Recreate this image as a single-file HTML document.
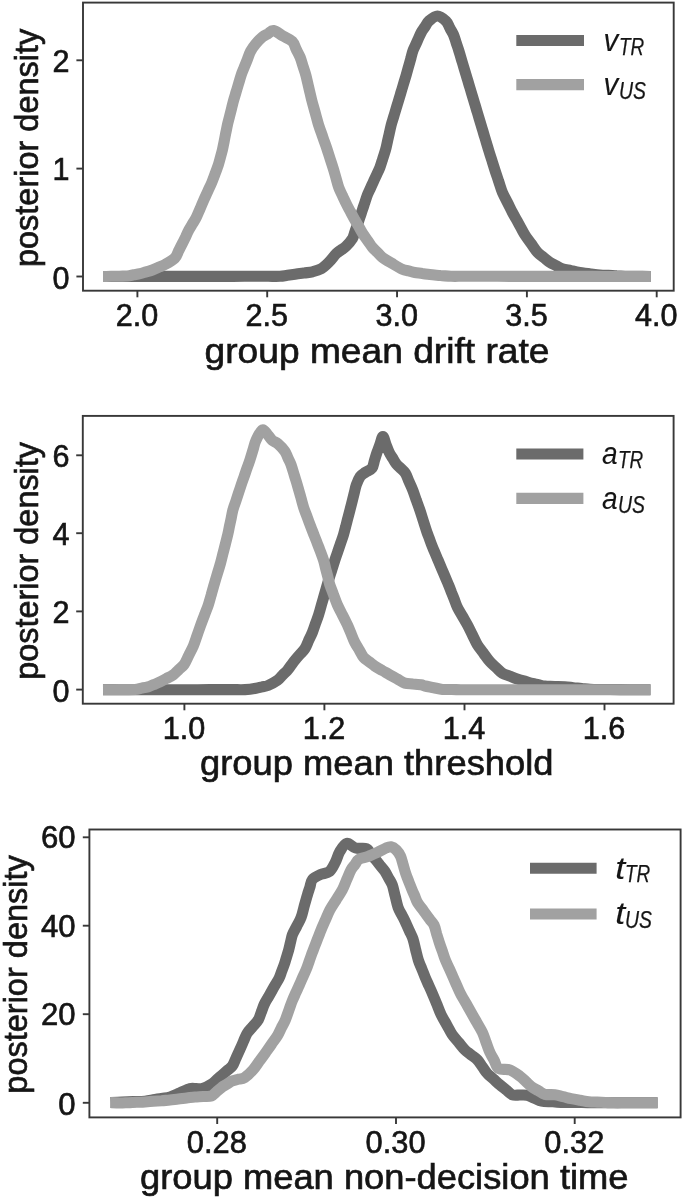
<!DOCTYPE html>
<html><head><meta charset="utf-8"><title>posterior densities</title>
<style>
html,body{margin:0;padding:0;background:#fff;}
svg{display:block;}
text{font-family:"Liberation Sans",sans-serif;fill:#151515;stroke:#151515;stroke-width:0.65px;}
</style></head><body>
<svg width="685" height="1199" viewBox="0 0 685 1199">
<rect width="685" height="1199" fill="#fff"/>
<g style="filter:blur(0.6px)">
<g id="p1">
<path d="M103.0 276.5C105.0 276.5 110.9 276.5 114.8 276.5C118.7 276.5 122.7 276.5 126.6 276.5C130.5 276.5 134.5 276.5 138.4 276.5C142.3 276.5 146.3 276.5 150.2 276.4C154.1 276.4 158.1 276.4 162.0 276.4C165.9 276.4 169.9 276.4 173.8 276.4C177.7 276.4 181.7 276.4 185.6 276.4C189.5 276.4 193.5 276.4 197.4 276.4C201.3 276.4 205.3 276.4 209.2 276.4C213.1 276.4 217.1 276.4 221.0 276.4C224.9 276.4 228.9 276.4 232.8 276.4C236.7 276.3 240.7 276.3 244.6 276.3C248.5 276.3 252.5 276.3 256.4 276.3C260.3 276.3 264.3 276.3 268.2 276.3C272.1 276.3 276.8 276.5 280.0 276.3C283.2 276.1 285.0 275.6 287.5 275.3C290.0 275.0 292.3 274.7 295.0 274.3C297.7 273.9 300.8 273.5 303.8 273.1C306.7 272.6 309.6 272.5 312.5 271.8C315.4 271.1 318.5 270.4 321.2 268.8C323.9 267.2 326.2 264.9 328.7 262.4C331.2 259.9 334.1 255.8 336.2 253.7C338.3 251.6 339.5 251.2 341.2 249.9C342.9 248.7 344.3 248.1 346.2 246.2C348.1 244.3 350.9 241.0 352.4 238.6C353.8 236.2 354.1 234.0 354.9 231.8C355.7 229.5 356.6 227.3 357.4 224.9C358.2 222.5 359.1 219.9 359.9 217.4C360.7 214.9 361.6 212.4 362.4 209.9C363.2 207.4 364.1 204.9 364.9 202.4C365.7 199.9 366.5 197.3 367.4 194.9C368.3 192.5 369.5 190.3 370.5 188.1C371.5 185.8 372.6 183.5 373.6 181.2C374.6 178.9 375.7 176.6 376.8 174.3C377.8 172.1 378.9 170.1 379.9 167.5C380.9 164.9 381.8 161.7 382.7 158.8C383.6 155.8 384.7 152.8 385.5 150.0C386.3 147.2 386.8 144.4 387.4 141.7C388.0 138.9 388.7 136.1 389.3 133.3C389.9 130.6 390.5 127.8 391.2 125.0C391.9 122.2 392.9 119.4 393.7 116.7C394.5 113.9 395.4 111.1 396.2 108.3C397.0 105.6 397.9 102.8 398.7 100.0C399.5 97.2 400.4 94.4 401.2 91.7C402.0 88.9 402.9 86.1 403.7 83.3C404.5 80.6 405.4 77.8 406.2 75.0C407.0 72.2 407.8 69.4 408.5 66.7C409.3 63.9 410.1 61.1 410.9 58.3C411.6 55.6 412.1 52.8 413.2 50.0C414.3 47.2 415.9 44.2 417.2 41.2C418.5 38.3 419.9 34.9 421.2 32.5C422.5 30.1 423.7 28.7 424.9 26.9C426.2 25.0 426.6 23.0 428.7 21.2C430.8 19.4 434.5 16.0 437.4 16.0C440.3 16.0 444.0 19.2 446.1 21.2C448.2 23.2 448.6 25.8 449.9 28.1C451.1 30.4 452.6 32.6 453.6 35.0C454.6 37.4 455.3 40.0 456.1 42.5C456.9 45.0 457.8 47.4 458.6 50.0C459.4 52.6 460.3 55.6 461.1 58.3C461.9 61.1 462.8 63.9 463.6 66.7C464.4 69.4 465.3 72.2 466.1 75.0C466.9 77.8 467.8 80.6 468.6 83.3C469.4 86.1 470.3 88.9 471.1 91.7C471.9 94.4 472.8 97.2 473.6 100.0C474.4 102.8 475.3 105.6 476.1 108.3C476.9 111.1 477.8 113.9 478.6 116.7C479.4 119.4 480.3 122.2 481.1 125.0C481.9 127.8 482.8 130.6 483.6 133.3C484.4 136.1 485.3 138.9 486.1 141.7C486.9 144.4 487.7 146.9 488.6 150.0C489.5 153.1 490.7 156.7 491.8 160.0C492.8 163.3 493.8 166.5 494.9 170.0C496.0 173.5 497.4 177.5 498.6 181.2C499.9 184.9 500.9 188.9 502.4 192.4C503.9 195.9 505.7 199.1 507.4 202.4C509.1 205.7 510.9 209.5 512.4 212.4C513.9 215.3 515.2 217.4 516.6 219.9C518.0 222.4 519.3 224.9 520.7 227.4C522.1 229.9 523.2 232.2 524.9 234.9C526.6 237.6 529.1 240.7 531.1 243.6C533.2 246.5 535.3 250.0 537.4 252.3C539.5 254.6 541.6 255.7 543.6 257.4C545.7 259.0 547.8 261.0 549.9 262.4C552.0 263.8 554.0 264.5 556.1 265.6C558.2 266.7 559.8 268.0 562.3 268.8C564.8 269.6 568.1 270.0 571.0 270.6C574.0 271.3 576.7 272.0 579.8 272.5C582.9 273.0 586.5 273.3 589.8 273.8C593.1 274.2 596.7 274.7 599.8 275.0C602.9 275.3 605.4 275.3 608.2 275.4C611.0 275.6 613.8 275.7 616.6 275.9C619.4 276.0 622.2 276.2 625.0 276.3C627.8 276.4 630.7 276.3 633.6 276.4C636.4 276.4 639.3 276.4 642.1 276.4C645.0 276.5 649.3 276.5 650.7 276.5" fill="none" stroke="#6b6b6b" stroke-width="11.1" stroke-linejoin="round" stroke-linecap="butt"/>
<path d="M103.0 276.5C104.4 276.5 108.4 276.4 111.1 276.3C113.8 276.3 116.6 276.2 119.3 276.2C122.0 276.1 125.0 276.2 127.4 276.0C129.8 275.8 131.6 275.2 133.7 274.8C135.8 274.4 137.9 274.1 140.0 273.6C142.1 273.1 144.1 272.4 146.2 271.8C148.3 271.2 150.3 270.8 152.4 270.0C154.5 269.2 156.6 268.2 158.7 267.2C160.8 266.3 162.3 266.0 165.0 264.5C167.7 263.0 172.6 260.3 174.9 258.0C177.2 255.7 177.4 253.1 178.7 250.7C179.9 248.3 181.2 245.7 182.4 243.4C183.6 241.1 184.6 238.9 185.7 236.7C186.7 234.4 187.7 232.1 188.9 229.9C190.1 227.7 191.4 225.7 192.6 223.7C193.8 221.6 195.1 219.9 196.3 217.4C197.5 214.9 198.8 211.6 200.1 208.7C201.3 205.7 202.5 202.8 203.8 199.9C205.1 197.0 206.5 194.1 207.8 191.2C209.1 188.3 210.6 185.4 211.8 182.5C213.0 179.6 214.0 176.7 215.1 173.8C216.1 170.8 217.4 167.7 218.3 165.0C219.2 162.3 219.7 160.0 220.4 157.5C221.0 155.0 221.8 152.6 222.4 150.0C223.0 147.4 223.5 144.4 224.1 141.7C224.6 138.9 225.2 136.1 225.7 133.3C226.3 130.6 226.8 127.8 227.4 125.0C228.0 122.2 228.8 119.4 229.5 116.7C230.2 113.9 230.9 111.1 231.6 108.3C232.3 105.6 232.9 102.8 233.7 100.0C234.5 97.2 235.4 94.4 236.2 91.7C237.0 88.9 237.9 86.1 238.7 83.3C239.5 80.6 240.3 77.7 241.2 75.0C242.1 72.3 243.3 69.7 244.3 67.1C245.4 64.4 246.4 61.8 247.5 59.1C248.5 56.5 249.2 53.7 250.6 51.2C252.0 48.7 253.6 46.4 255.6 44.0C257.6 41.6 260.3 38.7 262.4 37.0C264.5 35.3 266.1 34.8 268.0 33.8C269.9 32.7 271.1 30.1 273.6 30.5C276.1 30.9 279.8 34.1 283.0 36.0C286.1 37.8 290.1 39.2 292.3 41.4C294.5 43.6 294.9 46.7 296.2 49.4C297.6 52.1 299.1 54.6 300.2 57.4C301.3 60.2 302.1 63.3 303.0 66.2C303.9 69.1 305.0 72.1 305.8 75.0C306.6 77.9 307.1 80.6 307.8 83.3C308.4 86.1 309.1 88.9 309.7 91.7C310.4 94.4 311.0 97.2 311.7 100.0C312.4 102.8 313.2 105.6 314.0 108.3C314.8 111.1 315.5 113.9 316.3 116.7C317.1 119.4 317.7 122.2 318.6 125.0C319.5 127.8 320.5 130.6 321.5 133.3C322.5 136.1 323.4 138.9 324.4 141.7C325.4 144.4 326.3 146.9 327.3 150.0C328.3 153.1 329.4 156.7 330.5 160.0C331.6 163.3 332.8 166.9 333.7 170.0C334.6 173.1 335.4 175.8 336.2 178.7C337.0 181.6 337.7 184.6 338.7 187.4C339.7 190.2 341.2 192.8 342.4 195.6C343.7 198.3 344.9 201.0 346.2 203.7C347.5 206.4 349.1 209.1 350.5 211.8C352.0 214.5 353.4 217.3 354.9 219.9C356.3 222.5 357.8 224.9 359.2 227.4C360.7 229.9 362.1 232.6 363.6 234.9C365.1 237.2 366.5 239.1 368.0 241.2C369.5 243.2 370.8 245.5 372.4 247.4C374.0 249.3 375.7 250.7 377.4 252.4C379.0 254.0 379.8 255.4 382.3 257.3C384.8 259.2 389.0 261.6 392.3 263.6C395.6 265.6 399.6 268.1 402.3 269.3C405.0 270.5 406.5 270.4 408.6 270.9C410.6 271.4 412.5 272.1 414.8 272.5C417.1 272.9 419.8 273.2 422.3 273.6C424.8 273.9 426.8 274.3 429.8 274.6C432.8 274.9 436.9 275.2 440.4 275.5C443.9 275.7 447.3 276.2 451.0 276.3C454.7 276.4 458.8 276.3 462.7 276.3C466.7 276.3 470.6 276.3 474.5 276.3C478.4 276.3 482.3 276.3 486.2 276.3C490.2 276.3 494.1 276.3 498.0 276.3C501.9 276.4 505.8 276.4 509.7 276.4C513.7 276.4 517.6 276.4 521.5 276.4C525.4 276.4 529.3 276.4 533.2 276.4C537.1 276.4 541.1 276.4 545.0 276.4C548.9 276.4 552.8 276.4 556.7 276.4C560.6 276.4 564.6 276.4 568.5 276.4C572.4 276.4 576.3 276.4 580.2 276.4C584.1 276.4 588.0 276.4 592.0 276.4C595.9 276.4 599.8 276.4 603.7 276.5C607.6 276.5 611.5 276.5 615.5 276.5C619.4 276.5 623.3 276.5 627.2 276.5C631.1 276.5 635.0 276.5 639.0 276.5C642.9 276.5 648.7 276.5 650.7 276.5" fill="none" stroke="#a1a1a1" stroke-width="11.1" stroke-linejoin="round" stroke-linecap="butt"/>
<rect x="83.0" y="2.6" width="590.70" height="288.10" fill="none" stroke="#383838" stroke-width="1.9"/>
<line x1="137.4" y1="290.7" x2="137.4" y2="297.30" stroke="#383838" stroke-width="1.9"/>
<text x="137.00" y="325.80" font-size="31.0" text-anchor="middle" textLength="42.5" lengthAdjust="spacingAndGlyphs">2.0</text>
<line x1="267.2" y1="290.7" x2="267.2" y2="297.30" stroke="#383838" stroke-width="1.9"/>
<text x="266.80" y="325.80" font-size="31.0" text-anchor="middle" textLength="42.5" lengthAdjust="spacingAndGlyphs">2.5</text>
<line x1="397.05" y1="290.7" x2="397.05" y2="297.30" stroke="#383838" stroke-width="1.9"/>
<text x="396.65" y="325.80" font-size="31.0" text-anchor="middle" textLength="42.5" lengthAdjust="spacingAndGlyphs">3.0</text>
<line x1="526.9" y1="290.7" x2="526.9" y2="297.30" stroke="#383838" stroke-width="1.9"/>
<text x="526.50" y="325.80" font-size="31.0" text-anchor="middle" textLength="42.5" lengthAdjust="spacingAndGlyphs">3.5</text>
<line x1="656.7" y1="290.7" x2="656.7" y2="297.30" stroke="#383838" stroke-width="1.9"/>
<text x="656.30" y="325.80" font-size="31.0" text-anchor="middle" textLength="42.5" lengthAdjust="spacingAndGlyphs">4.0</text>
<line x1="76.40" y1="276.5" x2="83.0" y2="276.5" stroke="#383838" stroke-width="1.9"/>
<text x="69.60" y="289.10" font-size="31.0" text-anchor="end" textLength="17" lengthAdjust="spacingAndGlyphs">0</text>
<line x1="76.40" y1="168.6" x2="83.0" y2="168.6" stroke="#383838" stroke-width="1.9"/>
<text x="69.60" y="179.90" font-size="31.0" text-anchor="end" textLength="17" lengthAdjust="spacingAndGlyphs">1</text>
<line x1="76.40" y1="60.3" x2="83.0" y2="60.3" stroke="#383838" stroke-width="1.9"/>
<text x="69.60" y="71.60" font-size="31.0" text-anchor="end" textLength="17" lengthAdjust="spacingAndGlyphs">2</text>
<text x="204.60" y="362.70" font-size="34.5" text-anchor="start" textLength="344.8" lengthAdjust="spacingAndGlyphs">group mean drift rate</text>
<text transform="translate(38.3,147.9) rotate(-90)" x="-119.1" y="0" font-size="33.0" textLength="238.2" lengthAdjust="spacingAndGlyphs">posterior density</text>
<line x1="516.3" y1="40.5" x2="584" y2="40.5" stroke="#6b6b6b" stroke-width="11.1"/>
<line x1="516.3" y1="84.6" x2="584" y2="84.6" stroke="#a1a1a1" stroke-width="11.1"/>
<text x="603.60" y="50.70" font-size="31.5" text-anchor="start" textLength="14.8" lengthAdjust="spacingAndGlyphs" style="font-style:italic;stroke-width:0.1px">v</text>
<text x="619.00" y="54.60" font-size="23.5" text-anchor="start" textLength="25.2" lengthAdjust="spacingAndGlyphs" style="font-style:italic;stroke-width:0.25px">TR</text>
<text x="603.60" y="94.80" font-size="31.5" text-anchor="start" textLength="14.8" lengthAdjust="spacingAndGlyphs" style="font-style:italic;stroke-width:0.1px">v</text>
<text x="619.00" y="98.70" font-size="23.5" text-anchor="start" textLength="27.0" lengthAdjust="spacingAndGlyphs" style="font-style:italic;stroke-width:0.25px">US</text>
</g>
<g id="p2">
<path d="M103.0 689.8C105.0 689.8 110.9 689.8 114.8 689.8C118.8 689.8 122.7 689.8 126.7 689.8C130.6 689.8 134.6 689.8 138.5 689.8C142.4 689.7 146.4 689.7 150.3 689.7C154.3 689.7 158.2 689.7 162.2 689.7C166.1 689.7 170.1 689.7 174.0 689.7C177.9 689.7 181.9 689.7 185.8 689.7C189.8 689.7 193.7 689.7 197.7 689.7C201.6 689.7 205.6 689.7 209.5 689.6C213.4 689.6 217.4 689.6 221.3 689.6C225.3 689.6 229.2 689.6 233.2 689.6C237.1 689.6 241.2 689.8 245.0 689.6C248.8 689.4 253.2 688.7 256.0 688.2C258.8 687.7 260.0 687.3 262.0 686.9C264.0 686.4 265.4 686.6 268.0 685.5C270.6 684.4 275.1 682.0 277.5 680.3C279.9 678.6 280.8 677.0 282.4 675.3C284.1 673.6 285.9 672.0 287.4 670.3C288.8 668.6 289.9 666.9 291.1 665.2C292.4 663.6 293.4 662.0 294.9 660.2C296.4 658.4 298.2 656.3 299.9 654.4C301.6 652.5 303.4 650.9 304.9 648.6C306.4 646.3 307.4 643.2 308.6 640.5C309.9 637.8 311.3 635.2 312.4 632.4C313.5 629.6 314.5 626.6 315.5 623.6C316.5 620.7 317.7 617.8 318.6 614.9C319.5 612.0 320.3 609.1 321.1 606.1C321.9 603.2 322.8 600.3 323.6 597.4C324.4 594.5 325.3 591.6 326.1 588.7C326.9 585.8 327.7 583.1 328.6 580.0C329.5 576.9 330.7 573.3 331.8 570.0C332.8 566.7 333.9 563.1 334.9 560.0C335.9 556.9 336.8 554.4 337.8 551.6C338.7 548.8 339.7 546.0 340.6 543.2C341.6 540.4 342.7 537.6 343.5 534.8C344.3 532.0 344.9 529.3 345.7 526.5C346.4 523.7 347.1 521.0 347.8 518.2C348.6 515.4 349.3 512.7 350.0 509.9C350.7 507.1 351.4 504.3 352.1 501.6C352.8 498.8 353.5 496.0 354.2 493.2C354.9 490.5 355.3 487.7 356.3 484.9C357.3 482.1 358.7 478.6 360.2 476.5C361.7 474.4 363.3 473.8 365.3 472.4C367.3 471.0 370.5 470.2 372.0 468.2C373.5 466.2 373.7 462.9 374.5 460.3C375.3 457.7 376.1 455.0 377.0 452.4C377.9 449.8 379.0 447.1 379.9 444.4C380.9 441.8 381.9 436.5 382.9 436.5C383.9 436.5 385.0 441.8 386.0 444.4C387.1 447.1 388.1 450.1 389.2 452.4C390.3 454.7 391.5 456.2 392.6 458.0C393.8 459.9 394.8 462.0 396.1 463.7C397.5 465.4 399.2 466.9 400.8 468.4C402.3 470.0 404.0 471.0 405.4 473.2C406.8 475.4 407.8 478.8 409.0 481.5C410.3 484.3 411.5 486.8 412.7 489.9C413.9 493.0 415.1 496.6 416.2 499.9C417.4 503.2 418.6 506.4 419.8 509.9C421.0 513.4 422.2 517.4 423.4 521.1C424.6 524.8 425.9 529.2 427.0 532.3C428.1 535.4 428.9 537.3 429.8 539.8C430.7 542.3 431.7 545.0 432.6 547.3C433.5 549.6 434.4 551.5 435.3 553.6C436.2 555.8 437.0 557.6 438.0 560.0C439.0 562.4 440.4 565.6 441.5 568.3C442.7 571.1 443.9 573.9 445.1 576.7C446.2 579.4 447.5 582.4 448.6 585.0C449.7 587.6 450.6 590.0 451.5 592.5C452.5 595.0 453.5 597.4 454.5 599.9C455.4 602.4 456.1 604.7 457.4 607.4C458.7 610.1 460.7 613.2 462.4 616.1C464.1 619.1 465.7 621.8 467.4 624.9C469.1 628.0 470.7 631.6 472.4 634.9C474.1 638.2 475.5 641.8 477.4 644.9C479.3 648.0 481.6 650.5 483.6 653.3C485.7 656.1 487.8 659.3 489.9 661.7C492.0 664.1 494.1 665.6 496.1 667.5C498.2 669.4 500.1 671.9 502.4 673.3C504.7 674.7 507.4 675.2 509.8 676.1C512.3 677.1 514.8 678.2 517.3 679.0C519.8 679.8 522.3 680.5 524.8 681.2C527.3 681.9 530.0 682.8 532.3 683.4C534.6 684.0 536.5 684.3 538.5 684.8C540.6 685.2 542.1 685.8 544.8 686.1C547.5 686.4 551.5 686.3 554.8 686.5C558.1 686.6 561.7 686.6 564.8 686.8C567.9 687.0 570.4 687.4 573.2 687.7C576.0 688.0 578.8 688.2 581.6 688.5C584.4 688.8 586.9 689.2 590.0 689.4C593.1 689.6 596.7 689.4 600.1 689.5C603.4 689.5 606.8 689.5 610.2 689.5C613.5 689.6 616.9 689.6 620.2 689.6C623.6 689.6 627.0 689.6 630.3 689.7C633.7 689.7 637.1 689.7 640.4 689.7C643.8 689.8 648.8 689.8 650.5 689.8" fill="none" stroke="#6b6b6b" stroke-width="11.1" stroke-linejoin="round" stroke-linecap="butt"/>
<path d="M103.0 689.8C104.8 689.8 110.1 689.7 113.7 689.7C117.2 689.7 120.8 689.6 124.3 689.6C127.9 689.6 132.1 689.7 135.0 689.5C137.9 689.3 139.3 688.6 141.5 688.1C143.7 687.7 145.9 687.4 148.0 686.8C150.1 686.2 151.9 685.2 153.9 684.5C155.9 683.7 157.7 683.1 159.8 682.1C161.9 681.1 164.2 679.7 166.4 678.5C168.6 677.4 171.0 676.5 173.0 675.0C175.0 673.5 176.7 671.5 178.6 669.8C180.4 668.0 182.4 666.9 184.1 664.5C185.8 662.1 187.2 658.3 188.8 655.2C190.3 652.1 192.0 649.2 193.4 645.9C194.8 642.6 195.9 638.9 197.1 635.4C198.3 631.9 199.6 628.3 200.8 624.9C202.0 621.5 203.3 618.2 204.6 614.9C205.8 611.6 207.2 608.2 208.3 604.9C209.4 601.6 210.2 598.3 211.2 595.0C212.1 591.6 213.0 588.5 214.0 585.0C215.0 581.5 216.2 577.5 217.3 573.8C218.5 570.0 219.8 565.9 220.7 562.5C221.6 559.1 222.3 556.3 223.0 553.3C223.8 550.2 224.6 547.1 225.4 544.0C226.1 541.0 227.0 537.7 227.7 534.8C228.4 531.9 228.9 529.3 229.4 526.5C230.0 523.7 230.6 521.0 231.2 518.2C231.7 515.4 232.2 512.7 232.9 509.9C233.7 507.1 234.7 504.3 235.7 501.6C236.6 498.8 237.5 496.0 238.4 493.2C239.4 490.5 240.3 487.7 241.2 484.9C242.1 482.1 243.1 479.3 244.1 476.6C245.1 473.8 246.0 471.0 247.0 468.2C248.0 465.5 248.9 462.9 249.9 459.9C250.9 456.9 252.0 453.3 253.0 449.9C254.0 446.6 254.5 443.4 256.1 440.0C257.7 436.6 260.4 430.6 262.4 429.8C264.4 429.0 266.2 433.2 267.9 435.0C269.6 436.8 270.7 439.1 272.4 440.5C274.1 441.9 275.8 441.9 277.9 443.7C280.0 445.5 283.1 448.8 284.8 451.2C286.5 453.6 286.9 455.8 288.0 458.0C289.0 460.3 290.1 462.1 291.1 464.9C292.1 467.7 293.2 471.6 294.2 474.9C295.2 478.2 296.3 481.4 297.3 484.9C298.3 488.4 299.4 492.4 300.5 496.1C301.5 499.9 302.5 503.9 303.6 507.4C304.7 510.9 306.1 514.0 307.3 517.3C308.5 520.7 309.9 524.4 311.0 527.3C312.1 530.2 313.0 532.3 313.9 534.8C314.9 537.3 315.9 539.8 316.9 542.3C317.8 544.8 318.7 546.8 319.8 549.8C320.9 552.8 322.5 556.9 323.5 560.0C324.5 563.1 324.9 565.6 325.6 568.3C326.3 571.1 327.1 573.9 327.8 576.7C328.5 579.4 328.9 582.0 329.9 585.0C330.9 588.0 332.4 591.6 333.6 595.0C334.9 598.3 335.9 601.6 337.4 604.9C338.9 608.2 340.7 611.6 342.4 614.9C344.1 618.2 345.9 621.8 347.4 624.9C348.8 628.0 349.9 630.7 351.1 633.6C352.3 636.6 353.4 639.7 354.8 642.4C356.2 645.1 357.7 647.4 359.2 649.9C360.7 652.4 361.9 655.4 363.6 657.4C365.3 659.4 367.3 660.3 369.2 661.8C371.1 663.2 372.6 664.6 374.8 666.1C377.0 667.6 379.8 669.0 382.3 670.5C384.8 671.9 387.3 673.4 389.8 674.8C392.3 676.2 394.8 677.6 397.3 679.0C399.8 680.3 402.2 682.3 404.8 683.1C407.4 683.9 410.2 683.7 412.9 684.0C415.6 684.2 419.0 684.5 421.0 684.8C423.0 685.1 422.9 685.5 425.0 686.0C427.1 686.5 430.8 687.1 433.8 687.7C436.7 688.3 439.5 689.1 442.5 689.4C445.5 689.7 448.6 689.5 451.7 689.5C454.7 689.6 457.8 689.6 460.8 689.7C463.9 689.7 466.6 689.8 470.0 689.8C473.4 689.8 477.5 689.8 481.3 689.8C485.0 689.8 488.8 689.8 492.6 689.8C496.3 689.8 500.1 689.8 503.8 689.8C507.6 689.8 511.4 689.8 515.1 689.8C518.9 689.8 522.6 689.8 526.4 689.8C530.2 689.8 533.9 689.8 537.7 689.8C541.4 689.8 545.2 689.8 549.0 689.8C552.7 689.8 556.5 689.8 560.2 689.8C564.0 689.8 567.8 689.8 571.5 689.8C575.3 689.8 579.1 689.8 582.8 689.8C586.6 689.8 590.3 689.8 594.1 689.8C597.9 689.8 601.6 689.8 605.4 689.8C609.1 689.8 612.9 689.8 616.7 689.8C620.4 689.8 624.2 689.8 627.9 689.8C631.7 689.8 635.5 689.8 639.2 689.8C643.0 689.8 648.6 689.8 650.5 689.8" fill="none" stroke="#a1a1a1" stroke-width="11.1" stroke-linejoin="round" stroke-linecap="butt"/>
<rect x="82.8" y="415.9" width="590.80" height="287.80" fill="none" stroke="#383838" stroke-width="1.9"/>
<line x1="184.4" y1="703.7" x2="184.4" y2="710.30" stroke="#383838" stroke-width="1.9"/>
<text x="184.00" y="739.30" font-size="31.0" text-anchor="middle" textLength="42.5" lengthAdjust="spacingAndGlyphs">1.0</text>
<line x1="324.4" y1="703.7" x2="324.4" y2="710.30" stroke="#383838" stroke-width="1.9"/>
<text x="324.00" y="739.30" font-size="31.0" text-anchor="middle" textLength="42.5" lengthAdjust="spacingAndGlyphs">1.2</text>
<line x1="464.5" y1="703.7" x2="464.5" y2="710.30" stroke="#383838" stroke-width="1.9"/>
<text x="464.10" y="739.30" font-size="31.0" text-anchor="middle" textLength="42.5" lengthAdjust="spacingAndGlyphs">1.4</text>
<line x1="604.5" y1="703.7" x2="604.5" y2="710.30" stroke="#383838" stroke-width="1.9"/>
<text x="604.10" y="739.30" font-size="31.0" text-anchor="middle" textLength="42.5" lengthAdjust="spacingAndGlyphs">1.6</text>
<line x1="76.20" y1="689.6" x2="82.8" y2="689.6" stroke="#383838" stroke-width="1.9"/>
<text x="69.60" y="702.20" font-size="31.0" text-anchor="end" textLength="17" lengthAdjust="spacingAndGlyphs">0</text>
<line x1="76.20" y1="611.4" x2="82.8" y2="611.4" stroke="#383838" stroke-width="1.9"/>
<text x="69.60" y="622.70" font-size="31.0" text-anchor="end" textLength="17" lengthAdjust="spacingAndGlyphs">2</text>
<line x1="76.20" y1="533.2" x2="82.8" y2="533.2" stroke="#383838" stroke-width="1.9"/>
<text x="69.60" y="544.50" font-size="31.0" text-anchor="end" textLength="17" lengthAdjust="spacingAndGlyphs">4</text>
<line x1="76.20" y1="455.3" x2="82.8" y2="455.3" stroke="#383838" stroke-width="1.9"/>
<text x="69.60" y="466.60" font-size="31.0" text-anchor="end" textLength="17" lengthAdjust="spacingAndGlyphs">6</text>
<text x="200.00" y="775.20" font-size="34.5" text-anchor="start" textLength="353.5" lengthAdjust="spacingAndGlyphs">group mean threshold</text>
<text transform="translate(38.3,560.85) rotate(-90)" x="-118.85" y="0" font-size="33.0" textLength="237.7" lengthAdjust="spacingAndGlyphs">posterior density</text>
<line x1="516.3" y1="454" x2="583.4" y2="454" stroke="#6b6b6b" stroke-width="11.1"/>
<line x1="516.3" y1="498.4" x2="583.4" y2="498.4" stroke="#a1a1a1" stroke-width="11.1"/>
<text x="602.10" y="464.20" font-size="31.5" text-anchor="start" textLength="15.6" lengthAdjust="spacingAndGlyphs" style="font-style:italic;stroke-width:0.1px">a</text>
<text x="617.90" y="468.10" font-size="23.5" text-anchor="start" textLength="25.2" lengthAdjust="spacingAndGlyphs" style="font-style:italic;stroke-width:0.25px">TR</text>
<text x="602.10" y="508.60" font-size="31.5" text-anchor="start" textLength="15.6" lengthAdjust="spacingAndGlyphs" style="font-style:italic;stroke-width:0.1px">a</text>
<text x="617.90" y="512.50" font-size="23.5" text-anchor="start" textLength="27.0" lengthAdjust="spacingAndGlyphs" style="font-style:italic;stroke-width:0.25px">US</text>
</g>
<g id="p3">
<path d="M110.5 1102.5C112.4 1102.4 118.2 1102.2 122.0 1102.1C125.8 1101.9 129.7 1101.8 133.5 1101.6C137.3 1101.5 141.7 1101.5 145.0 1101.2C148.3 1100.9 150.6 1100.3 153.3 1099.8C156.1 1099.3 158.9 1098.9 161.7 1098.4C164.4 1097.9 166.9 1097.9 170.0 1097.0C173.1 1096.1 176.7 1094.2 180.0 1092.8C183.3 1091.4 187.3 1089.3 190.0 1088.6C192.7 1087.9 194.1 1088.6 196.2 1088.6C198.2 1088.6 199.6 1089.4 202.3 1088.6C205.0 1087.8 209.8 1085.2 212.3 1083.6C214.8 1082.0 215.6 1080.7 217.3 1079.2C219.0 1077.7 220.6 1076.3 222.3 1074.8C224.0 1073.3 225.6 1071.9 227.3 1070.4C229.0 1069.0 230.8 1068.2 232.3 1066.1C233.8 1064.0 234.8 1060.6 236.1 1057.8C237.4 1055.1 238.7 1052.3 239.9 1049.6C241.1 1046.9 242.3 1044.2 243.4 1041.5C244.6 1038.9 245.5 1036.0 247.0 1033.5C248.5 1031.0 250.8 1028.9 252.7 1026.7C254.5 1024.4 256.9 1022.3 258.3 1019.8C259.8 1017.3 260.3 1014.5 261.4 1011.9C262.4 1009.3 263.2 1006.5 264.4 1004.0C265.6 1001.5 267.0 999.3 268.4 997.0C269.7 994.7 271.1 992.2 272.3 990.0C273.5 987.8 274.6 985.9 275.8 983.9C277.0 981.9 278.3 980.0 279.3 977.8C280.3 975.6 281.0 973.1 281.9 970.8C282.8 968.5 283.7 966.1 284.5 963.8C285.3 961.5 285.9 959.1 286.6 956.8C287.3 954.5 288.0 952.2 288.7 949.8C289.4 947.4 289.9 944.8 290.5 942.3C291.2 939.8 291.4 937.5 292.4 934.8C293.4 932.1 295.3 929.0 296.8 926.1C298.2 923.2 299.9 920.7 301.1 917.4C302.4 914.1 303.2 909.9 304.2 906.1C305.3 902.4 306.5 898.1 307.4 894.9C308.3 891.7 309.1 889.8 309.9 887.2C310.7 884.6 310.6 881.6 312.4 879.5C314.2 877.4 317.6 875.8 320.5 874.5C323.4 873.2 327.1 873.5 329.5 871.5C331.9 869.5 333.5 865.8 335.2 862.5C336.9 859.2 337.9 854.7 339.8 851.5C341.7 848.3 344.2 843.9 346.8 843.3C349.4 842.7 352.2 847.1 355.5 848.0C358.8 848.9 364.0 847.7 366.5 848.6C369.0 849.5 369.3 852.0 370.6 853.7C372.0 855.3 373.3 856.8 374.8 858.7C376.3 860.6 378.1 862.9 379.8 865.0C381.5 867.0 383.3 869.0 384.8 871.2C386.3 873.4 387.3 875.8 388.6 878.0C389.8 880.3 391.2 881.9 392.3 884.9C393.4 887.9 394.2 892.4 395.2 896.2C396.2 900.0 397.0 904.3 398.1 907.5C399.2 910.7 400.7 912.8 402.1 915.4C403.4 918.0 404.8 920.7 406.0 923.3C407.2 925.9 408.3 928.5 409.5 931.1C410.7 933.8 412.0 935.9 413.0 939.0C414.0 942.1 414.8 946.0 415.6 949.5C416.5 953.0 417.3 956.8 418.3 960.0C419.3 963.2 420.6 965.9 421.8 968.8C423.0 971.7 424.1 974.8 425.3 977.6C426.5 980.4 427.6 982.8 428.8 985.5C430.0 988.1 431.0 990.2 432.3 993.3C433.6 996.4 435.3 1000.5 436.8 1004.1C438.2 1007.7 439.5 1011.4 441.2 1014.9C442.9 1018.4 444.9 1021.6 446.8 1024.9C448.7 1028.2 450.4 1032.0 452.4 1034.9C454.4 1037.8 456.6 1039.9 458.6 1042.4C460.7 1044.9 462.8 1047.8 464.9 1049.9C467.0 1052.0 469.1 1053.2 471.1 1054.9C473.2 1056.6 475.5 1057.9 477.4 1059.9C479.3 1061.9 480.7 1064.5 482.4 1066.8C484.1 1069.0 485.5 1071.5 487.4 1073.6C489.3 1075.7 491.5 1077.3 493.6 1079.2C495.7 1081.1 497.7 1083.0 499.8 1084.8C501.9 1086.6 504.0 1088.1 506.0 1089.8C508.1 1091.5 510.0 1093.9 512.3 1094.8C514.6 1095.7 517.3 1095.0 519.8 1095.0C522.3 1095.1 524.9 1094.8 527.3 1095.3C529.7 1095.8 532.0 1097.2 534.4 1098.2C536.8 1099.1 538.4 1100.4 541.5 1101.0C544.6 1101.6 549.0 1101.5 552.8 1101.8C556.5 1102.0 560.2 1102.4 564.0 1102.5C567.8 1102.6 571.8 1102.5 575.7 1102.5C579.6 1102.5 583.5 1102.6 587.4 1102.6C591.3 1102.6 595.2 1102.6 599.1 1102.6C603.0 1102.6 606.9 1102.6 610.8 1102.7C614.7 1102.7 618.6 1102.7 622.5 1102.7C626.4 1102.7 630.3 1102.7 634.2 1102.7C638.1 1102.7 642.0 1102.8 645.9 1102.8C649.8 1102.8 655.6 1102.8 657.6 1102.8" fill="none" stroke="#6b6b6b" stroke-width="11.1" stroke-linejoin="round" stroke-linecap="butt"/>
<path d="M110.5 1102.5C112.1 1102.6 117.0 1103.0 120.0 1103.0C123.0 1103.0 125.6 1102.8 128.3 1102.7C131.1 1102.6 133.9 1102.4 136.7 1102.3C139.4 1102.2 142.2 1102.2 145.0 1102.0C147.8 1101.8 150.6 1101.6 153.3 1101.3C156.1 1101.1 158.9 1100.9 161.7 1100.7C164.4 1100.4 167.2 1100.3 170.0 1100.0C172.8 1099.7 175.6 1099.3 178.3 1099.0C181.1 1098.7 183.9 1098.3 186.7 1098.0C189.4 1097.7 192.3 1097.2 195.0 1097.0C197.7 1096.8 200.4 1096.7 203.2 1096.5C205.9 1096.3 209.1 1096.8 211.3 1096.0C213.5 1095.2 214.8 1093.1 216.6 1091.7C218.3 1090.2 220.1 1088.6 221.8 1087.3C223.6 1086.0 225.3 1085.2 227.1 1084.1C228.8 1083.0 230.4 1081.7 232.3 1080.9C234.2 1080.1 236.4 1079.8 238.4 1079.2C240.5 1078.7 242.2 1079.2 244.6 1077.6C247.0 1076.0 250.6 1072.6 253.0 1069.9C255.4 1067.2 257.1 1064.3 259.1 1061.5C261.2 1058.7 263.3 1056.0 265.3 1053.1C267.3 1050.2 269.4 1047.3 271.4 1044.3C273.4 1041.4 275.8 1038.4 277.5 1035.6C279.2 1032.8 280.1 1030.3 281.4 1027.7C282.8 1025.1 284.2 1022.7 285.4 1019.8C286.6 1016.9 287.7 1013.4 288.9 1010.1C290.1 1006.9 291.2 1003.4 292.4 1000.5C293.6 997.6 294.7 995.3 295.9 992.6C297.1 990.0 298.2 987.4 299.4 984.8C300.6 982.2 301.7 979.5 302.9 976.9C304.1 974.3 305.3 971.7 306.4 969.0C307.5 966.3 308.4 963.4 309.4 960.6C310.4 957.9 311.4 954.9 312.4 952.3C313.4 949.7 314.3 947.3 315.3 944.8C316.3 942.3 317.2 939.8 318.2 937.3C319.2 934.8 319.9 932.7 321.1 929.8C322.3 926.9 324.0 923.2 325.5 919.8C327.0 916.5 328.1 913.2 329.9 909.9C331.7 906.6 334.0 903.2 336.1 899.9C338.2 896.6 340.5 893.2 342.3 889.9C344.1 886.6 345.2 883.2 346.6 879.9C348.1 876.6 349.6 872.5 351.0 869.9C352.4 867.3 353.7 866.3 355.0 864.5C356.3 862.8 356.8 860.5 359.0 859.2C361.2 857.9 364.9 857.6 368.0 856.5C371.1 855.4 374.3 853.9 377.3 852.5C380.3 851.1 383.7 849.0 386.0 848.0C388.3 847.0 389.3 846.5 391.0 846.8C392.7 847.1 394.7 848.4 396.3 850.0C397.9 851.6 399.3 853.6 400.5 856.2C401.7 858.8 402.4 862.4 403.4 865.5C404.3 868.7 405.2 872.1 406.2 874.9C407.2 877.7 408.2 879.9 409.1 882.5C410.1 885.0 411.2 887.7 412.1 890.0C413.0 892.3 413.9 894.1 414.8 896.1C415.6 898.2 416.2 900.3 417.4 902.3C418.6 904.3 420.3 906.4 421.8 908.4C423.3 910.4 424.8 912.6 426.2 914.5C427.6 916.4 428.8 918.0 430.1 919.8C431.4 921.5 432.9 922.7 434.0 925.0C435.1 927.3 435.8 930.8 436.6 933.8C437.5 936.7 438.4 939.6 439.3 942.5C440.2 945.4 441.3 948.3 442.4 951.2C443.4 954.2 444.2 957.1 445.4 960.0C446.6 962.9 448.0 965.9 449.4 968.8C450.7 971.7 452.1 974.8 453.3 977.6C454.5 980.4 455.6 982.8 456.8 985.5C458.0 988.1 458.8 990.4 460.3 993.3C461.8 996.2 463.9 999.7 465.7 1002.8C467.5 1006.0 469.3 1009.1 471.1 1012.4C472.9 1015.7 474.9 1019.1 476.8 1022.4C478.6 1025.7 480.8 1029.1 482.4 1032.4C484.0 1035.7 484.9 1039.1 486.1 1042.4C487.4 1045.7 488.5 1049.4 489.9 1052.4C491.2 1055.4 492.8 1057.8 494.2 1060.5C495.7 1063.2 496.0 1067.0 498.6 1068.6C501.2 1070.2 506.3 1068.7 509.8 1069.9C513.3 1071.2 517.1 1074.1 519.8 1076.1C522.5 1078.1 524.0 1079.8 526.0 1081.7C528.1 1083.6 530.2 1085.8 532.3 1087.3C534.4 1088.8 536.5 1089.6 538.5 1090.8C540.6 1092.0 542.1 1093.6 544.8 1094.3C547.5 1095.0 551.8 1094.4 554.8 1094.8C557.8 1095.2 560.2 1096.1 562.9 1096.7C565.6 1097.3 568.2 1098.0 571.0 1098.6C573.8 1099.2 577.0 1099.7 580.0 1100.2C582.9 1100.7 586.0 1101.5 588.9 1101.8C591.8 1102.1 594.5 1102.0 597.2 1102.1C600.0 1102.2 602.8 1102.4 605.6 1102.5C608.3 1102.6 610.7 1102.7 613.9 1102.8C617.1 1102.9 621.2 1102.8 624.8 1102.8C628.5 1102.8 632.1 1102.8 635.8 1102.8C639.4 1102.8 643.0 1102.8 646.7 1102.8C650.3 1102.8 655.8 1102.8 657.6 1102.8" fill="none" stroke="#a1a1a1" stroke-width="11.1" stroke-linejoin="round" stroke-linecap="butt"/>
<rect x="89.4" y="829.5" width="591.20" height="287.90" fill="none" stroke="#383838" stroke-width="1.9"/>
<line x1="217.2" y1="1117.4" x2="217.2" y2="1124.00" stroke="#383838" stroke-width="1.9"/>
<text x="216.80" y="1152.80" font-size="31.0" text-anchor="middle" textLength="60" lengthAdjust="spacingAndGlyphs">0.28</text>
<line x1="396.0" y1="1117.4" x2="396.0" y2="1124.00" stroke="#383838" stroke-width="1.9"/>
<text x="395.60" y="1152.80" font-size="31.0" text-anchor="middle" textLength="60" lengthAdjust="spacingAndGlyphs">0.30</text>
<line x1="574.7" y1="1117.4" x2="574.7" y2="1124.00" stroke="#383838" stroke-width="1.9"/>
<text x="574.30" y="1152.80" font-size="31.0" text-anchor="middle" textLength="60" lengthAdjust="spacingAndGlyphs">0.32</text>
<line x1="82.80" y1="1102.8" x2="89.4" y2="1102.8" stroke="#383838" stroke-width="1.9"/>
<text x="75.60" y="1115.10" font-size="31.0" text-anchor="end" textLength="17.3" lengthAdjust="spacingAndGlyphs">0</text>
<line x1="82.80" y1="1014.2" x2="89.4" y2="1014.2" stroke="#383838" stroke-width="1.9"/>
<text x="75.60" y="1025.20" font-size="31.0" text-anchor="end" textLength="34.6" lengthAdjust="spacingAndGlyphs">20</text>
<line x1="82.80" y1="925.7" x2="89.4" y2="925.7" stroke="#383838" stroke-width="1.9"/>
<text x="75.60" y="936.70" font-size="31.0" text-anchor="end" textLength="34.6" lengthAdjust="spacingAndGlyphs">40</text>
<line x1="82.80" y1="837.3" x2="89.4" y2="837.3" stroke="#383838" stroke-width="1.9"/>
<text x="75.60" y="848.30" font-size="31.0" text-anchor="end" textLength="34.6" lengthAdjust="spacingAndGlyphs">60</text>
<text x="140.00" y="1188.80" font-size="34.5" text-anchor="start" textLength="488.5" lengthAdjust="spacingAndGlyphs">group mean non-decision time</text>
<text transform="translate(27.3,974.45) rotate(-90)" x="-119.25" y="0" font-size="33.0" textLength="238.5" lengthAdjust="spacingAndGlyphs">posterior density</text>
<line x1="530" y1="868.3" x2="596.6" y2="868.3" stroke="#6b6b6b" stroke-width="11.1"/>
<line x1="530" y1="914" x2="596.6" y2="914" stroke="#a1a1a1" stroke-width="11.1"/>
<text x="615.30" y="878.50" font-size="31.5" text-anchor="start" textLength="10.0" lengthAdjust="spacingAndGlyphs" style="font-style:italic;stroke-width:0.1px">t</text>
<text x="625.00" y="882.40" font-size="23.5" text-anchor="start" textLength="25.2" lengthAdjust="spacingAndGlyphs" style="font-style:italic;stroke-width:0.25px">TR</text>
<text x="615.30" y="924.20" font-size="31.5" text-anchor="start" textLength="10.0" lengthAdjust="spacingAndGlyphs" style="font-style:italic;stroke-width:0.1px">t</text>
<text x="625.00" y="928.10" font-size="23.5" text-anchor="start" textLength="27.0" lengthAdjust="spacingAndGlyphs" style="font-style:italic;stroke-width:0.25px">US</text>
</g>
</g></svg></body></html>
